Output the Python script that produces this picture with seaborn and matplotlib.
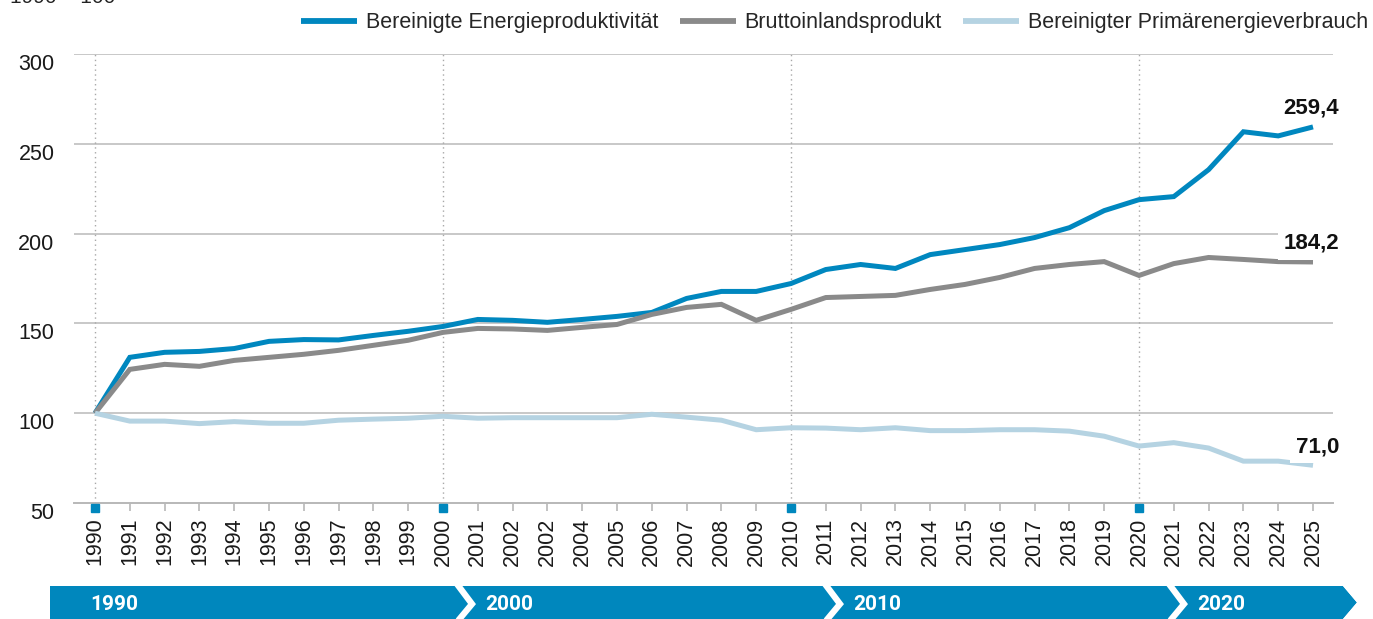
import numpy as np
import pandas as pd
import matplotlib
matplotlib.use("Agg")
import matplotlib.pyplot as plt
import seaborn as sns
from matplotlib.patches import Polygon
from matplotlib.lines import Line2D
from matplotlib.transforms import ScaledTranslation

# ---------------- data ----------------
year_labels = ["1990", "1991", "1992", "1993", "1994", "1995", "1996", "1997", "1998", "1999",
               "2000", "2001", "2002", "2002", "2004", "2005", "2006", "2007", "2008", "2009",
               "2010", "2011", "2012", "2013", "2014", "2015", "2016", "2017", "2018", "2019",
               "2020", "2021", "2022", "2023", "2024", "2025"]

energieproduktivitaet = [100.0, 131.1, 133.9, 134.4, 136.0, 140.0, 141.0, 140.8, 143.3, 145.6,
                         148.3, 152.2, 151.7, 150.6, 152.2, 153.9, 156.1, 163.9, 167.8, 167.8,
                         172.2, 180.0, 182.8, 180.6, 188.3, 191.1, 193.9, 197.8, 203.3, 212.8,
                         218.9, 220.6, 235.6, 256.7, 254.4, 259.4]

bip = [100.0, 124.4, 127.2, 126.1, 129.4, 131.1, 132.8, 135.0, 137.8, 140.6,
       145.0, 147.2, 146.9, 146.1, 147.8, 149.4, 155.0, 158.9, 160.6, 151.7,
       157.8, 164.4, 165.0, 165.6, 168.9, 171.7, 175.6, 180.6, 182.8, 184.4,
       176.7, 183.3, 186.7, 185.6, 184.4, 184.2]

primaerenergie = [100.0, 95.6, 95.6, 94.2, 95.3, 94.4, 94.4, 96.1, 96.7, 97.2,
                  98.3, 97.2, 97.5, 97.5, 97.5, 97.5, 99.4, 97.8, 96.1, 90.8,
                  91.9, 91.7, 90.8, 91.9, 90.3, 90.3, 90.8, 90.8, 90.0, 87.2,
                  81.7, 83.6, 80.6, 73.3, 73.3, 71.0]

series_names = ["Bereinigte Energieproduktivität", "Bruttoinlandsprodukt",
                "Bereinigter Primärenergieverbrauch"]
end_labels = ["259,4", "184,2", "71,0"]
decade_labels = ["1990", "2000", "2010", "2020"]
y_ticks = [50, 100, 150, 200, 250, 300]

colors = ["#0087BF", "#8A8A8A", "#B5D3E2"]
band_color = "#0087BD"

# ---------------- frame ----------------
W, H = 1373, 619
DPI = 100
sns.set_theme(style="white")
plt.rcParams["font.family"] = ["Liberation Sans", "DejaVu Sans"]

fig = plt.figure(figsize=(W / DPI, H / DPI), dpi=DPI)
ax = fig.add_axes([74 / W, 1 - 503 / H, (1333 - 74) / W, (503 - 54) / H])

x = np.arange(len(year_labels))
df = pd.concat([
    pd.DataFrame({"x": x, "wert": vals, "reihe": name})
    for name, vals in zip(series_names, [energieproduktivitaet, bip, primaerenergie])
])

# vertical dotted decade lines
decade_pos = [i for i, lab in enumerate(year_labels) if lab in decade_labels]
for p in decade_pos:
    ax.axvline(p, color="#A8A8A8", lw=1.0, ls=(0, (1, 2.5)), zorder=1)

# horizontal grid
for yv in y_ticks[1:]:
    ax.axhline(yv, color="#C8C8C8", lw=1.4, zorder=0.5)

sns.lineplot(data=df, x="x", y="wert", hue="reihe", palette=colors,
             hue_order=series_names, linewidth=3.6, ax=ax, legend=False, zorder=3)
for ln in ax.lines:
    ln.set_solid_capstyle("butt")
    ln.set_solid_joinstyle("miter")

ax.set_xlim(-21 / 34.8, len(x) - 1 + 20 / 34.8)
ax.set_ylim(50, 300)

# spines
for s in ["top", "right", "left"]:
    ax.spines[s].set_visible(False)
ax.spines["bottom"].set_color("#B8B8B8")
ax.spines["bottom"].set_linewidth(1.4)

# ticks
ax.set_xticks(x)
ax.set_xticklabels(year_labels, rotation=90, fontsize=15.5, color="#1a1a1a")
ax.tick_params(axis="x", direction="out", length=5.5, width=1.2, color="#B8B8B8", pad=5,
               bottom=True)
for i, t in enumerate(ax.xaxis.get_major_ticks()):
    if i in decade_pos:
        t.tick1line.set_visible(False)

ax.set_yticks(y_ticks)
ax.set_yticklabels([str(v) for v in y_ticks], fontsize=15.5, color="#1a1a1a")
ax.tick_params(axis="y", length=0, pad=14)
for lab in ax.get_yticklabels():
    lab.set_verticalalignment("top")
ax.set_xlabel("")
ax.set_ylabel("")

# blue squares at decade ticks
sq_trans = ax.get_xaxis_transform() + ScaledTranslation(0, -4.5 / DPI, fig.dpi_scale_trans)
ax.plot(decade_pos, [0] * len(decade_pos), ls="none", marker="s", markersize=6.2,
        color=band_color, transform=sq_trans, clip_on=False, zorder=5)

# end labels
for vals, lab in zip([energieproduktivitaet, bip, primaerenergie], end_labels):
    ax.annotate(lab, xy=(x[-1], vals[-1]), xytext=(26, 13), textcoords="offset pixels",
                ha="right", va="baseline", fontsize=16, fontweight="bold", color="#111111",
                bbox=dict(boxstyle="square,pad=0.25", fc="white", ec="none"), zorder=6,
                annotation_clip=False)

# legend
handles = [Line2D([0], [0], color=c, lw=4.2, solid_capstyle="butt") for c in colors]
fig.legend(handles, series_names, loc="upper right", bbox_to_anchor=(1372 / W, 1 - 8 / H),
           ncol=3, frameon=False, fontsize=15.5, handlelength=2.6, handletextpad=0.4,
           columnspacing=1.0, borderaxespad=0, borderpad=0.2)

# cut-off header text in the top-left corner (as in the reference)
fig.text(10 / W, 1 - 3 / H, "1990 = 100", fontsize=15, color="#222222", ha="left", va="baseline")

# bottom timeline band
def fx(px):
    return px / W

def fy(py):
    return 1 - py / H

top, bot = 586, 640
band = Polygon([(fx(50), fy(top)), (fx(1343), fy(top)), (fx(1343 + 14), fy(602.5)),
                (fx(1343), fy(619)), (fx(1343), fy(bot)), (fx(50), fy(bot))],
               closed=True, transform=fig.transFigure, fc=band_color, ec="none")
fig.patches.append(band)
band2 = Polygon([(fx(1343), fy(top)), (fx(1360), fy(top)), (fx(1360), fy(bot)), (fx(1343), fy(bot)),
                 (fx(1343), fy(619)), (fx(1357), fy(602.5))],
                closed=True, transform=fig.transFigure, fc="white", ec="none")
fig.patches.append(band2)

chev_x = [457, 825, 1169]
for cx in chev_x:
    fig.add_artist(Line2D([fx(cx), fx(cx + 15), fx(cx)], [fy(top - 2), fy(604), fy(622)],
                          transform=fig.transFigure, color="white", lw=4.5,
                          solid_joinstyle="miter"))

label_x = [90, 485, 853, 1197]
for lx, lab in zip(label_x, decade_labels):
    fig.text(fx(lx), fy(605), lab, color="white", fontsize=15, fontweight="bold",
             ha="left", va="center", family=["Roboto", "Liberation Sans", "DejaVu Sans"])

fig.savefig("out.png", dpi=DPI)
